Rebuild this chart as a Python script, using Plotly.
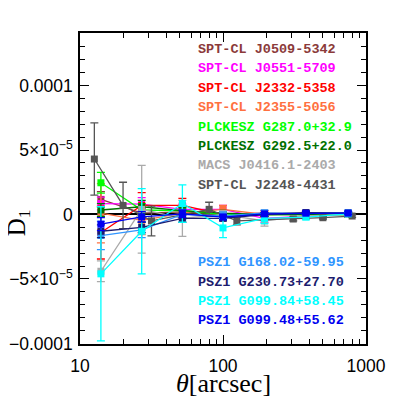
import plotly.graph_objects as go

SCALE = 1e-5  # values below are in units of 1e-5

x_main = [14, 27, 52, 100, 195, 380, 750]
x_2248 = [12.6, 20, 31.6, 80, 125, 310, 500, 800]

names = [
    "SPT-CL J0509-5342", "SPT-CL J0551-5709", "SPT-CL J2332-5358", "SPT-CL J2355-5056",
    "PLCKESZ G287.0+32.9", "PLCKESZ G292.5+22.0", "MACS J0416.1-2403", "SPT-CL J2248-4431",
    "PSZ1 G168.02-59.95", "PSZ1 G230.73+27.70", "PSZ1 G099.84+58.45", "PSZ1 G099.48+55.62",
]
colors = [
    "#8b3a3a", "#ff00ff", "#ff0000", "#ff7040",
    "#00ff00", "#007000", "#aaaaaa", "#555555",
    "#2f95ff", "#1c1c6e", "#00ffff", "#0000f0",
]

y_J0509 = [1.17, 0.10, 0.20, -0.10, 0.00, 0.05, 0.00]
e_J0509 = [0.60, 0.40, 0.30, 0.20, 0.15, 0.10, 0.10]
y_J0551 = [0.85, 0.80, 0.40, 0.40, -0.30, -0.10, 0.05]
e_J0551 = [0.50, 0.50, 0.40, 0.30, 0.30, 0.20, 0.10]
y_J2332 = [-1.40, 0.70, 0.70, 0.00, 0.10, 0.05, 0.05]
e_J2332 = [2.05, 1.00, 0.55, 0.30, 0.20, 0.10, 0.10]
y_J2355 = [0.10, -0.45, 0.10, 0.40, 0.00, 0.00, 0.05]
e_J2355 = [2.30, 1.10, 0.40, 0.30, 0.20, 0.10, 0.10]
y_G287 = [2.46, 0.35, 0.30, 0.00, 0.00, 0.00, 0.00]
e_G287 = [0.80, 0.50, 0.30, 0.20, 0.15, 0.10, 0.10]
y_G292 = [0.35, 0.60, 0.30, 0.10, 0.00, 0.00, 0.00]
e_G292 = [0.50, 0.50, 0.30, 0.20, 0.15, 0.10, 0.10]
y_J0416 = [-4.40, 0.40, -0.30, 0.00, -0.50, -0.10, 0.00]
e_J0416 = [0.80, 3.40, 1.40, 0.30, 0.40, 0.20, 0.10]
y_J2248 = [4.30, 0.70, -0.50, 0.40, -0.50, -0.35, -0.25, -0.12]
e_J2248 = [2.80, 1.80, 1.15, 0.55, 0.30, 0.15, 0.10, 0.10]
y_G168 = [-1.63, -1.20, 0.00, -0.10, 0.13, 0.10, 0.15]
e_G168 = [1.10, 0.60, 0.40, 0.30, 0.20, 0.10, 0.10]
y_G230 = [-1.30, -1.00, -0.30, -0.30, 0.00, 0.15, 0.10]
e_G230 = [0.50, 0.40, 0.30, 0.20, 0.15, 0.10, 0.10]
y_G09984 = [-4.60, -1.30, 0.85, -1.04, -0.30, -0.20, 0.05]
e_G09984 = [5.20, 3.30, 1.45, 0.75, 0.40, 0.20, 0.10]
y_G09948 = [-0.75, -0.18, 0.05, -0.20, 0.05, 0.10, 0.10]
e_G09948 = [0.50, 0.40, 0.30, 0.20, 0.10, 0.10, 0.10]

series_y = [y_J0509, y_J0551, y_J2332, y_J2355, y_G287, y_G292, y_J0416, y_J2248,
            y_G168, y_G230, y_G09984, y_G09948]
series_e = [e_J0509, e_J0551, e_J2332, e_J2355, e_G287, e_G292, e_J0416, e_J2248,
            e_G168, e_G230, e_G09984, e_G09948]
series_x = [x_main] * 7 + [x_2248] + [x_main] * 4

y_ticks = [-1e-4, -5e-5, 0, 5e-5, 1e-4]
y_ticktext = ["−0.0001", "−5×10<sup>−5</sup>", "0", "5×10<sup>−5</sup>", "0.0001"]
x_ticks = [10, 100, 1000]
x_ticktext = ["10", "100", "1000"]

fig = go.Figure()
for xs, ys, es, c, n in zip(series_x, series_y, series_e, colors, names):
    fig.add_trace(go.Scatter(
        x=xs, y=[v * SCALE for v in ys],
        error_y=dict(type="data", array=[v * SCALE for v in es], color=c, thickness=1.3, width=4),
        mode="lines+markers", line=dict(color=c, width=1.3),
        marker=dict(symbol="square", size=7, color=c), name=n, showlegend=False,
    ))

MONO = "Liberation Mono, DejaVu Sans Mono, monospace"
top_names = names[:8]
bot_names = names[8:]
for i, (n, c) in enumerate(zip(top_names, colors[:8])):
    fig.add_annotation(x=0.405, y=1 - (16.5 + 19.4 * i) / 311, xref="paper", yref="paper",
                       text=n, showarrow=False, xanchor="left", yanchor="middle",
                       font=dict(family=MONO, size=13.5, color=c, weight="bold"))
for i, (n, c) in enumerate(zip(bot_names, colors[8:])):
    fig.add_annotation(x=0.405, y=1 - (229.7 + 19.4 * i) / 311, xref="paper", yref="paper",
                       text=n, showarrow=False, xanchor="left", yanchor="middle",
                       font=dict(family=MONO, size=13.5, color=c, weight="bold"))

fig.add_annotation(x=0.5, y=-0.128, xref="paper", yref="paper", text="<i>θ</i>[arcsec]",
                   showarrow=False, xanchor="center", yanchor="middle",
                   font=dict(family="Liberation Serif", size=26, color="black"))
fig.add_annotation(x=-0.215, y=0.39, xref="paper", yref="paper", text="D<sub>1</sub>",
                   showarrow=False, xanchor="center", yanchor="middle", textangle=-90,
                   font=dict(family="Liberation Serif", size=25, color="black"))

# page body has an 8px margin: shrink figure so the plot frame lands where the reference has it
fig.update_layout(
    width=391, height=391, margin=dict(l=71.5, r=33, t=25, b=55, autoexpand=False),
    paper_bgcolor="white", plot_bgcolor="white",
    font=dict(family="Liberation Sans", size=17.5, color="black"),
)
fig.update_xaxes(
    type="log", range=[1, 3], tickvals=x_ticks, ticktext=x_ticktext,
    ticks="inside", ticklen=9, tickwidth=1.2, tickcolor="black",
    minor=dict(ticks="inside", ticklen=5, tickwidth=1, tickcolor="black", dtick="D1", showgrid=False),
    showline=True, linecolor="black", linewidth=1.5, mirror="ticks", showgrid=False,
    zeroline=False, ticklabelstandoff=5,
)
fig.update_yaxes(
    range=[-1.004e-4, 1.407e-4], tickvals=y_ticks, ticktext=y_ticktext,
    ticks="inside", ticklen=9, tickwidth=1.2, tickcolor="black",
    minor=dict(ticks="inside", ticklen=5, tickwidth=1, tickcolor="black", dtick=1e-5, showgrid=False),
    showline=True, linecolor="black", linewidth=1.5, mirror="ticks", showgrid=False,
    zeroline=True, zerolinecolor="black", zerolinewidth=1.5, ticklabelstandoff=2,
)
fig.write_html("out.html")
